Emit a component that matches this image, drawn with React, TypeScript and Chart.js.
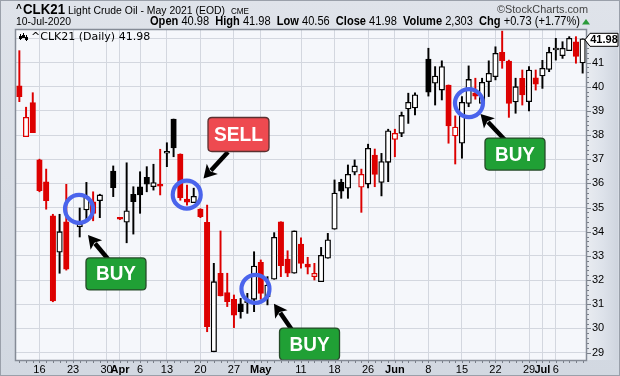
import React, { useEffect, useRef } from 'react';
import { Chart, registerables } from 'chart.js';
Chart.register(...registerables);

const W = 620;
const H = 376;
const FONT = '"Liberation Sans", Arial, sans-serif';
const RED = '#dd0000';
const BLACK = '#000000';

// ---- data ----
const dates = [
  '2020-03-11', '2020-03-12', '2020-03-13', '2020-03-16', '2020-03-17', '2020-03-18', '2020-03-19', '2020-03-20',
  '2020-03-23', '2020-03-24', '2020-03-25', '2020-03-26', '2020-03-27', '2020-03-30', '2020-03-31',
  '2020-04-01', '2020-04-02', '2020-04-03', '2020-04-06', '2020-04-07', '2020-04-08', '2020-04-09',
  '2020-04-13', '2020-04-14', '2020-04-15', '2020-04-16', '2020-04-17', '2020-04-20', '2020-04-21',
  '2020-04-22', '2020-04-23', '2020-04-24', '2020-04-27', '2020-04-28', '2020-04-29', '2020-04-30',
  '2020-05-01', '2020-05-04', '2020-05-05', '2020-05-06', '2020-05-07', '2020-05-08', '2020-05-11',
  '2020-05-12', '2020-05-13', '2020-05-14', '2020-05-15', '2020-05-18', '2020-05-19', '2020-05-20',
  '2020-05-21', '2020-05-22', '2020-05-26', '2020-05-27', '2020-05-28', '2020-05-29', '2020-06-01',
  '2020-06-02', '2020-06-03', '2020-06-04', '2020-06-05', '2020-06-08', '2020-06-09', '2020-06-10',
  '2020-06-11', '2020-06-12', '2020-06-15', '2020-06-16', '2020-06-17', '2020-06-18', '2020-06-19',
  '2020-06-22', '2020-06-23', '2020-06-24', '2020-06-25', '2020-06-26', '2020-06-29', '2020-06-30',
  '2020-07-01', '2020-07-02', '2020-07-06', '2020-07-07', '2020-07-08', '2020-07-09', '2020-07-10',
];

const opens = [
  40.03, 37.93, 39.34, 36.97, 36.06, 34.66, 33.15, 34.41, null, 34.2,
  34.9, 35.24, 35.28, null, 36.51, 34.56, 34.39, 35.55, 35.86, 36.25,
  35.86, 35.92, 37.25, 38.66, 37.21, 35.35, 35.2, 34.94, 34.39, 29.03,
  32.28, 31.48, 31.2, 31.01, 31.06, 31.2, 32.73, 31.31, 32.03, 34.41,
  32.87, 32.28, 33.49, 32.66, 32.14, 31.93, 32.9, 34.1, 36.04, 35.8,
  36.46, 35.84, 35.97, 37.17, 36.04, 36.87, 37.82, 38.07, 39.08, 39.12,
  null, 41.14, 40.14, 39.86, 40.07, 37.96, 37.66, 39.31, 39.75, 39.31,
  40.21, 40.41, 41.42, 41.06, 39.37, 40.35, 39.38, 40.37, 40.44, 40.71,
  41.52, 41.28, 41.49, 41.86, 40.98,
];
const highs = [
  41.49, 39.15, 39.75, 37.0, 36.59, 34.72, 34.72, 35.96, null, 34.98,
  36.04, 35.65, 35.55, null, 36.72, 34.58, 36.85, 35.86, 36.48, 36.69,
  36.79, 37.41, 37.68, 38.66, 37.22, 35.93, 35.8, 34.95, 35.1, 32.69,
  34.03, 32.28, 31.38, 31.24, 31.45, 33.17, 32.83, 32.14, 33.96, 34.41,
  33.21, 34.03, 33.75, 32.94, 32.69, 33.35, 33.93, 36.14, 36.17, 36.76,
  36.97, 36.59, 37.62, 37.42, 37.24, 38.24, 38.24, 38.95, 39.73, 39.74,
  null, 41.59, 40.83, 41.07, 40.07, 38.79, 39.59, 40.86, 40.35, 40.35,
  41.07, 41.65, 42.3, 41.1, 40.35, 40.69, 40.83, 40.69, 41.09, 41.63,
  42.0, 41.86, 42.07, 42.07, 41.98,
];
const lows = [
  39.38, 37.93, 38.1, 35.65, 34.93, 31.1, 32.28, 32.41, null, 33.78,
  34.41, 34.45, 34.58, null, 35.45, 34.5, 33.54, 33.9, 34.76, 35.65,
  35.72, 35.52, 36.69, 37.1, 35.3, 35.1, 35.2, 34.58, 29.86, 29.03,
  31.34, 30.9, 30.03, 30.42, 30.62, 30.69, 31.2, 30.97, 32.03, 32.14,
  32.14, 32.28, 32.49, 32.25, 32.0, 31.93, 32.9, 34.1, 35.38, 35.38,
  36.35, 34.8, 35.81, 35.86, 35.48, 36.07, 37.1, 37.93, 38.48, 38.83,
  null, 39.61, 39.24, 39.45, 37.66, 36.8, 37.04, 39.17, 39.48, 39.25,
  39.59, 40.28, 40.76, 38.73, 38.9, 39.24, 39.0, 39.86, 39.93, 40.62,
  41.1, 41.17, 41.49, 40.97, 40.56,
];
const closes = [
  39.59, 38.73, 38.1, 35.7, 35.28, 31.13, 34.0, 32.45, null, 34.3,
  35.45, 34.76, 35.52, null, 35.82, 34.52, 34.86, 35.24, 35.52, 35.97,
  36.03, 35.88, 37.28, 37.47, 35.41, 35.22, 35.46, 34.62, 30.07, 31.93,
  31.34, 31.1, 30.55, 30.69, 31.12, 32.58, 31.45, 31.79, 33.77, 32.59,
  32.28, 34.03, 32.69, 32.53, 32.28, 33.02, 33.66, 35.6, 35.68, 36.37,
  36.72, 36.37, 37.45, 36.37, 36.9, 38.17, 38.07, 38.81, 39.35, 39.66,
  null, 39.77, 40.44, 40.83, 38.38, 38.33, 39.35, 40.3, 39.61, 40.18,
  40.55, 41.38, 41.07, 39.31, 40.0, 39.66, 40.69, 40.1, 40.76, 41.42,
  41.56, 41.59, 42.0, 41.25, 41.98,
];
const lastVolume = 2303;

const tickDates = [
  '2020-03-16', '2020-03-23', '2020-03-30', '2020-04-01', '2020-04-06', '2020-04-13', '2020-04-20',
  '2020-04-27', '2020-05-01', '2020-05-11', '2020-05-18', '2020-05-26', '2020-06-01', '2020-06-08',
  '2020-06-15', '2020-06-22', '2020-06-29', '2020-07-01', '2020-07-06',
];
const tickTexts = [
  '16', '23', '30', 'Apr', '6', '13', '20', '27', 'May', '11', '18', '26', 'Jun', '8', '15', '22', '29', 'Jul', '6',
];
const monthTicks = ['Apr', 'May', 'Jun', 'Jul'];

const yMin = 28.69;
const yMax = 42.345;

// annotations in data units (index along dates, price)
const circleIdx = [8.9, 24.96, 35.21, 67.05];
const circlePrice = [34.94, 35.53, 31.63, 39.32];
const arrowFromIdx = [13.22, 31.11, 40.66, 72.42];
const arrowFromPrice = [32.87, 37.3, 29.93, 37.79];
const arrowToIdx = [10.24, 27.46, 37.97, 68.77];
const arrowToPrice = [33.86, 36.2, 31.02, 38.87];
const signalTexts = ['BUY', 'SELL', 'BUY', 'BUY'];
const signalIdx = [14.41, 32.68, 43.27, 73.91];
const signalPrice = [32.25, 38.02, 29.35, 37.21];

// ---- derived ----
const n = dates.length;
const prevClose = (i: number): number => {
  for (let j = i - 1; j >= 0; j--) if (closes[j] != null) return closes[j] as number;
  return opens[i] as number;
};
const valid = (i: number) => opens[i] != null && closes[i] != null;
const candleColor = dates.map((_, i) => (valid(i) && (closes[i] as number) < prevClose(i) ? RED : BLACK));
const isHollow = dates.map((_, i) => valid(i) && (closes[i] as number) > (opens[i] as number));
const wickData = dates.map((_, i) => (valid(i) ? [lows[i], highs[i]] : null));
const bodyData = dates.map((_, i) =>
  valid(i)
    ? [Math.min(opens[i] as number, closes[i] as number), Math.max(opens[i] as number, closes[i] as number)]
    : null
);
const bodyFill = dates.map((_, i) => (isHollow[i] ? '#ffffff' : candleColor[i]));

const tickMap: Record<number, string> = {};
tickDates.forEach((d, k) => {
  const idx = dates.indexOf(d);
  if (idx >= 0) tickMap[idx] = tickTexts[k];
});

function roundRect(ctx: CanvasRenderingContext2D, x: number, y: number, w: number, h: number, r: number) {
  ctx.beginPath();
  ctx.moveTo(x + r, y);
  ctx.lineTo(x + w - r, y);
  ctx.quadraticCurveTo(x + w, y, x + w, y + r);
  ctx.lineTo(x + w, y + h - r);
  ctx.quadraticCurveTo(x + w, y + h, x + w - r, y + h);
  ctx.lineTo(x + r, y + h);
  ctx.quadraticCurveTo(x, y + h, x, y + h - r);
  ctx.lineTo(x, y + r);
  ctx.quadraticCurveTo(x, y, x + r, y);
  ctx.closePath();
}

function drawArrow(ctx: CanvasRenderingContext2D, x1: number, y1: number, x2: number, y2: number) {
  const ang = Math.atan2(y2 - y1, x2 - x1);
  const head = 13;
  const hw = 7.5;
  const bx = x2 - head * Math.cos(ang);
  const by = y2 - head * Math.sin(ang);
  ctx.save();
  ctx.strokeStyle = '#000';
  ctx.lineWidth = 4.5;
  ctx.beginPath();
  ctx.moveTo(x1, y1);
  ctx.lineTo(bx + 2 * Math.cos(ang), by + 2 * Math.sin(ang));
  ctx.stroke();
  ctx.fillStyle = '#000';
  ctx.beginPath();
  ctx.moveTo(x2, y2);
  ctx.lineTo(bx + hw * Math.sin(ang), by - hw * Math.cos(ang));
  ctx.lineTo(bx + 3 * Math.cos(ang), by + 3 * Math.sin(ang));
  ctx.lineTo(bx - hw * Math.sin(ang), by + hw * Math.cos(ang));
  ctx.closePath();
  ctx.fill();
  ctx.restore();
}

type Run = { text: string; font: string; color?: string };
function drawRuns(ctx: CanvasRenderingContext2D, runs: Run[], x: number, y: number, targetW?: number) {
  let total = 0;
  runs.forEach((r) => {
    ctx.font = r.font;
    total += ctx.measureText(r.text).width;
  });
  const s = targetW ? targetW / total : 1;
  ctx.save();
  ctx.translate(x, y);
  ctx.scale(s, 1);
  let cx = 0;
  runs.forEach((r) => {
    ctx.font = r.font;
    ctx.fillStyle = r.color || '#000';
    ctx.textAlign = 'left';
    ctx.textBaseline = 'alphabetic';
    ctx.fillText(r.text, cx, 0);
    cx += ctx.measureText(r.text).width;
  });
  ctx.restore();
}

const decor = {
  id: 'decor',
  beforeDraw(chart: any) {
    const { ctx, chartArea: a } = chart;
    ctx.save();
    const g = ctx.createLinearGradient(0, 0, 0, H);
    g.addColorStop(0, '#dfe3ea');
    g.addColorStop(1, '#d2d8e1');
    ctx.fillStyle = g;
    ctx.fillRect(0, 0, W, H);
    ctx.fillStyle = '#f5f7fb';
    ctx.fillRect(a.left, a.top, a.right - a.left, a.bottom - a.top);
    const g2 = ctx.createLinearGradient(a.right, 0, W, 0);
    g2.addColorStop(0, '#e9ecf1');
    g2.addColorStop(0.5, '#dde2ea');
    g2.addColorStop(1, '#cdd3dd');
    ctx.fillStyle = g2;
    ctx.fillRect(a.right, a.top, W - a.right - 2, a.bottom - a.top);
    ctx.restore();
  },
  afterDatasetsDraw(chart: any) {
    const { ctx } = chart;
    const xs = chart.scales.x;
    const ys = chart.scales.y;
    const x0 = xs.getPixelForValue(0);
    const step = xs.getPixelForValue(1) - x0;
    const px = (i: number) => x0 + i * step;
    const py = (p: number) => ys.getPixelForValue(p);
    ctx.save();
    // circles
    ctx.strokeStyle = '#4a64ec';
    ctx.lineWidth = 4.2;
    circleIdx.forEach((ci, k) => {
      ctx.beginPath();
      ctx.arc(px(ci), py(circlePrice[k]), 14, 0, Math.PI * 2);
      ctx.stroke();
    });
    // arrows
    arrowFromIdx.forEach((fi, k) => {
      drawArrow(ctx, px(fi), py(arrowFromPrice[k]), px(arrowToIdx[k]), py(arrowToPrice[k]));
    });
    // labels
    signalTexts.forEach((t, k) => {
      const cx = px(signalIdx[k]);
      const cy = py(signalPrice[k]);
      const isSell = t === 'SELL';
      const w = isSell ? 61 : 60;
      const h = isSell ? 34 : 32;
      roundRect(ctx, cx - w / 2, cy - h / 2, w, h, 4);
      ctx.fillStyle = isSell ? '#ee4a50' : '#20a035';
      ctx.fill();
      ctx.lineWidth = 1.3;
      ctx.strokeStyle = isSell ? '#5a3030' : '#244a28';
      ctx.stroke();
      ctx.font = `bold 20px ${FONT}`;
      ctx.textAlign = 'center';
      ctx.textBaseline = 'middle';
      ctx.fillStyle = '#ffffff';
      ctx.fillText(t, cx, cy + 1, isSell ? 49 : 40);
    });
    ctx.restore();
  },
  afterDraw(chart: any) {
    const { ctx, chartArea: a } = chart;
    const xs = chart.scales.x;
    const ys = chart.scales.y;
    ctx.save();
    // plot frame
    ctx.strokeStyle = '#858b96';
    ctx.lineWidth = 1.5;
    ctx.strokeRect(a.left - 0.5, a.top - 0.5, a.right - a.left + 1, a.bottom - a.top + 1);
    // outer frame
    ctx.strokeStyle = '#9aa0aa';
    ctx.lineWidth = 1;
    ctx.strokeRect(0.5, 0.5, W - 1, H - 1);
    // x minor ticks
    ctx.strokeStyle = '#7a808a';
    ctx.lineWidth = 1;
    for (let i = 0; i < n; i++) {
      const x = Math.round(xs.getPixelForValue(i)) + 0.5;
      ctx.beginPath();
      ctx.moveTo(x, a.bottom + 1);
      ctx.lineTo(x, a.bottom + 3);
      ctx.stroke();
    }
    // y minor ticks
    for (let v = 29; v <= 42.2; v += 0.2) {
      const y = Math.round(ys.getPixelForValue(v)) + 0.5;
      const major = Math.abs(v - Math.round(v)) < 0.01;
      ctx.beginPath();
      ctx.moveTo(a.right + 1, y);
      ctx.lineTo(a.right + (major ? 5 : 3), y);
      ctx.stroke();
    }
    // last price box
    const last = closes[n - 1] as number;
    const yc = ys.getPixelForValue(last) + 1;
    ctx.beginPath();
    ctx.moveTo(a.right - 1, yc);
    ctx.lineTo(a.right + 4, yc - 6.5);
    ctx.lineTo(W - 2, yc - 6.5);
    ctx.lineTo(W - 2, yc + 6.5);
    ctx.lineTo(a.right + 4, yc + 6.5);
    ctx.closePath();
    ctx.fillStyle = '#ffffff';
    ctx.fill();
    ctx.strokeStyle = '#000';
    ctx.lineWidth = 1;
    ctx.stroke();
    ctx.font = `bold 11px ${FONT}`;
    ctx.fillStyle = '#000';
    ctx.textAlign = 'center';
    ctx.textBaseline = 'middle';
    ctx.fillText(last.toFixed(2), (a.right + 4 + W - 2) / 2, yc + 0.5);

    // legend inside plot
    ctx.strokeStyle = '#000';
    ctx.lineWidth = 1;
    const ix = a.left + 4;
    const iy = a.top + 3;
    [[0, 1, 7], [3, 0, 5], [6, 2, 8]].forEach(([dx, t, b]) => {
      ctx.beginPath();
      ctx.moveTo(ix + dx + 0.5, iy + t);
      ctx.lineTo(ix + dx + 0.5, iy + b);
      ctx.stroke();
      ctx.fillStyle = '#000';
      ctx.fillRect(ix + dx - 1, iy + t + 2, 3, 3);
    });
    ctx.font = `11px "DejaVu Sans", ${FONT}`;
    ctx.textAlign = 'left';
    ctx.textBaseline = 'alphabetic';
    ctx.fillStyle = '#000';
    ctx.fillText(`^CLK21 (Daily) ${last.toFixed(2)}`, a.left + 15, a.top + 10, 120);

    // header line 1
    ctx.font = `bold 10px ${FONT}`;
    ctx.fillText('^', 16, 12);
    ctx.font = `bold 15px ${FONT}`;
    ctx.fillText('CLK21', 23, 14, 42);
    ctx.font = `11px ${FONT}`;
    ctx.fillText('Light Crude Oil - May 2021 (EOD)', 68, 14, 157);
    ctx.font = `9px ${FONT}`;
    ctx.fillText('CME', 231, 14, 18);
    ctx.font = `11px ${FONT}`;
    ctx.fillStyle = '#444';
    ctx.fillText('\u00A9StockCharts.com', 497, 13, 91);

    // header line 2
    ctx.fillStyle = '#000';
    ctx.font = `11px ${FONT}`;
    ctx.fillText('10-Jul-2020', 16, 25, 55);
    const o = opens[n - 1] as number;
    const hi = highs[n - 1] as number;
    const lo = lows[n - 1] as number;
    const pc = prevClose(n - 1);
    const chg = last - pc;
    const pct = (chg / pc) * 100;
    const B = `bold 12px ${FONT}`;
    const R = `12px ${FONT}`;
    drawRuns(
      ctx,
      [
        { text: 'Open', font: B },
        { text: ` ${o.toFixed(2)}  `, font: R },
        { text: 'High', font: B },
        { text: ` ${hi.toFixed(2)}  `, font: R },
        { text: 'Low', font: B },
        { text: ` ${lo.toFixed(2)}  `, font: R },
        { text: 'Close', font: B },
        { text: ` ${last.toFixed(2)}  `, font: R },
        { text: 'Volume', font: B },
        { text: ` ${lastVolume.toLocaleString('en-US')}  `, font: R },
        { text: 'Chg', font: B },
        { text: ` +${chg.toFixed(2)} (+${pct.toFixed(2)}%)`, font: R },
      ],
      150,
      25,
      430
    );
    ctx.fillStyle = '#2a9a3a';
    ctx.beginPath();
    ctx.moveTo(586, 19);
    ctx.lineTo(590, 24.5);
    ctx.lineTo(582, 24.5);
    ctx.closePath();
    ctx.fill();
    ctx.restore();
  },
};

export default function App() {
  const ref = useRef<HTMLCanvasElement>(null);
  useEffect(() => {
    const canvas = ref.current;
    if (!canvas) return;
    const chart = new Chart(canvas, {
      type: 'bar',
      data: {
        labels: dates,
        datasets: [
          {
            label: 'wick',
            data: wickData as any,
            backgroundColor: candleColor,
            borderWidth: 0,
            barThickness: 1.3,
            grouped: false,
            order: 2,
          },
          {
            label: 'body',
            data: bodyData as any,
            backgroundColor: bodyFill,
            borderColor: candleColor,
            borderWidth: 1.3,
            borderSkipped: false,
            barThickness: 5.5,
            minBarLength: 1.8,
            grouped: false,
            order: 1,
          },
        ],
      },
      options: {
        responsive: false,
        animation: false,
        devicePixelRatio: 1,
        layout: { padding: { left: 16, top: 30, right: 0, bottom: 0 } },
        plugins: { legend: { display: false }, tooltip: { enabled: false } },
        scales: {
          x: {
            type: 'category',
            offset: true,
            border: { display: false },
            grid: {
              offset: false,
              drawTicks: false,
              color: (c: any) => (tickMap[c.index] !== undefined ? '#d3d7df' : 'rgba(0,0,0,0)'),
              lineWidth: 1,
            },
            ticks: {
              autoSkip: false,
              maxRotation: 0,
              minRotation: 0,
              padding: 3,
              color: '#000',
              callback: (_v: any, i: number) => tickMap[i] ?? '',
              font: (c: any) => ({
                family: FONT,
                size: 11,
                weight: monthTicks.includes(tickMap[c.index]) ? 'bold' : 'normal',
              }),
            },
            afterFit: (s: any) => {
              s.height = 16;
            },
          },
          y: {
            type: 'linear',
            position: 'right',
            min: yMin,
            max: yMax,
            border: { display: false },
            grid: { color: '#d3d7df', drawTicks: false, lineWidth: 1 },
            ticks: {
              stepSize: 1,
              includeBounds: false,
              padding: 6,
              color: '#000',
              font: { family: FONT, size: 11 },
              callback: (v: any) => (Number(v) >= 42 ? '' : String(v)),
            },
            afterFit: (s: any) => {
              s.width = 34;
            },
          },
        },
      },
      plugins: [decor],
    } as any);
    return () => chart.destroy();
  }, []);
  return (
    <div style={{ position: 'absolute', left: 0, top: 0, width: W, height: H }}>
      <canvas ref={ref} width={W} height={H} style={{ display: 'block', width: W, height: H }} />
    </div>
  );
}
